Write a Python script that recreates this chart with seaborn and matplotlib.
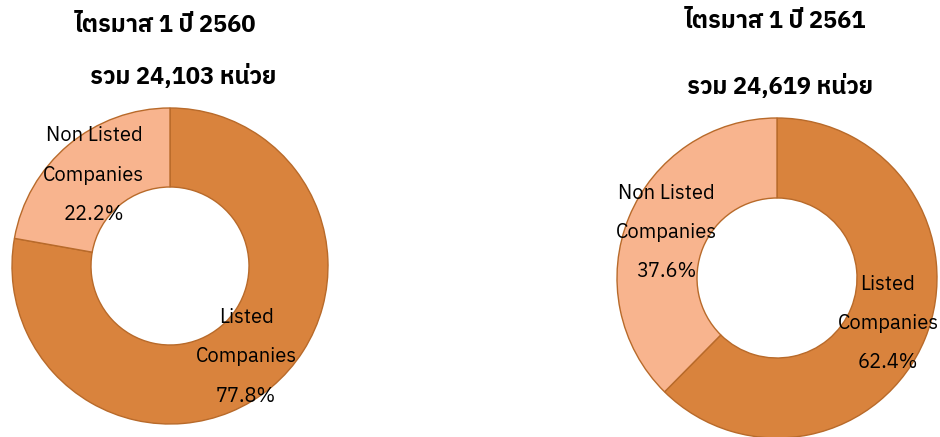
import matplotlib
matplotlib.use("Agg")
import matplotlib.pyplot as plt
import seaborn as sns
from matplotlib import font_manager
from matplotlib.ft2font import FT2Font

# ---- data ----
categories = ["Listed\nCompanies", "Non Listed\nCompanies"]
share_2560 = [77.8, 22.2]
share_2561 = [62.4, 37.6]
titles = ["ไตรมาส 1 ปี 2560", "ไตรมาส 1 ปี 2561"]
totals = ["รวม 24,103 หน่วย", "รวม 24,619 หน่วย"]
colors = ["#D9833D", "#F8B48E"]

sns.set_theme(style="white")

# find a font that covers Thai
thai_family = None
for f in font_manager.fontManager.ttflist:
    try:
        cmap = FT2Font(f.fname).get_charmap()
        if 0x0E44 in cmap and 0x0E23 in cmap:
            thai_family = f.name
            if "Sans" in f.name:
                break
    except Exception:
        pass
fam = ([thai_family] if thai_family else []) + ["DejaVu Sans"]
plt.rcParams["font.family"] = fam
plt.rcParams["text.color"] = "black"

fig = plt.figure(figsize=(9.4, 4.37), dpi=100)
W, H = 940, 437

def donut(cx, cy, r, values, title, total, ty1, ty2, tx1, tx2):
    ax = fig.add_axes([(cx - r) / W, (H - cy - r) / H, 2 * r / W, 2 * r / H])
    labels = [f"{c}\n{v:.1f}%" for c, v in zip(categories, values)]
    wedges, texts = ax.pie(values, labels=labels, colors=colors, startangle=90,
                           counterclock=False, labeldistance=0.75,
                           wedgeprops=dict(width=0.5, edgecolor="#B86A2A", linewidth=1.0),
                           textprops=dict(fontsize=14.5, color="black"))
    for t in texts:
        t.set_ha("center")
        t.set_va("center")
        t.set_linespacing(2.35)
    ax.set_xlim(-1, 1)
    ax.set_ylim(-1, 1)
    ax.set_aspect("equal")
    ax.axis("off")
    for w in wedges:
        w.set_clip_on(False)
    fig.text(tx1 / W, 1 - ty1 / H, title, ha="center", va="center",
             fontsize=17, fontweight="bold", color="black")
    fig.text(tx2 / W, 1 - ty2 / H, total, ha="center", va="center",
             fontsize=17, fontweight="bold", color="black")

donut(170, 266, 158, share_2560, titles[0], totals[0], 25, 77, 165, 183)
donut(777, 278, 160, share_2561, titles[1], totals[1], 22, 86, 775, 780)

fig.savefig("out.png", dpi=100)
